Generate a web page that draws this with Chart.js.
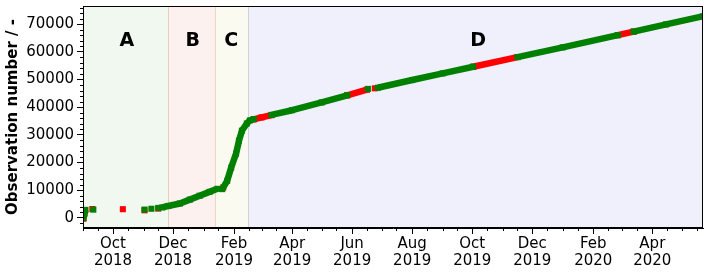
<!DOCTYPE html>
<html><head><meta charset="utf-8">
<script src="https://cdn.jsdelivr.net/npm/chart.js@4/dist/chart.umd.min.js"></script>
<style>html,body{margin:0;padding:0;background:#fff;}#wrap{width:709px;height:272px;}</style>
</head><body><div id="wrap"><canvas id="c" width="709" height="272"></canvas></div>
<script>
// ---- data (null = gap between observation runs) ----
const greenDates = ['2018-09-01','2018-09-02','2018-09-03','2018-09-05',
  '2018-09-11','2018-09-12',
  '2018-11-02','2018-11-03',
  '2018-11-09','2018-11-10',
  '2018-11-16','2018-11-17',
  '2018-11-20','2018-11-26','2018-12-08','2018-12-18','2018-12-28','2019-01-07','2019-01-15','2019-01-17',
  '2019-01-20','2019-01-25','2019-01-29','2019-02-03','2019-02-06','2019-02-09','2019-02-14','2019-02-17','2019-02-21','2019-02-22',
  '2019-03-11','2019-04-01','2019-05-01','2019-05-27','2019-05-28',
  '2019-06-17','2019-06-18',
  '2019-06-27','2019-08-01','2019-09-01','2019-10-02','2019-10-03',
  '2019-11-16','2020-01-01','2020-02-26','2020-02-27',
  '2020-03-13','2020-04-15','2020-05-23'];
const greenValues = [0,1500,2900,null,
  3000,null,
  3000,null,
  3300,null,
  3600,null,
  3800,4300,5200,6600,8000,9400,10500,null,
  10400,13400,18100,23200,27900,31500,34100,35200,35700,null,
  37200,38900,41700,44300,null,
  46600,null,
  47000,49800,52200,54600,null,
  58100,61600,66000,null,
  67300,69900,72900];

const redDates = ['2018-09-01','2018-09-02',
  '2018-09-10','2018-09-11',
  '2018-10-11','2018-10-12',
  '2018-11-02','2018-11-03',
  '2018-11-16','2018-11-17',
  '2019-01-21','2019-01-22',
  '2019-02-21','2019-03-01','2019-03-11','2019-03-12',
  '2019-05-27','2019-06-16','2019-06-17',
  '2019-06-24','2019-06-25',
  '2019-10-02','2019-11-16','2019-11-17',
  '2020-02-26','2020-03-13'];
const redValues = [-300,null,
  3200,null,
  3150,null,
  2750,null,
  3350,null,
  11000,null,
  35600,36300,37100,null,
  44300,46300,null,
  46800,null,
  54600,58100,null,
  66000,67300];

// ---- regions ----
const regionNames = ['A','B','C','D'];
const regionStarts = ['2018-08-30','2018-11-26','2019-01-13','2019-02-15'];
const regionEnds   = ['2018-11-26','2019-01-13','2019-02-15','2020-05-25'];
const regionLabelDates = ['2018-10-15','2018-12-21','2019-01-29','2019-10-07'];
const regionLabelValue = 62000;

// ---- ticks ----
const xTickDates = ['2018-10-01','2018-12-01','2019-02-01','2019-04-01','2019-06-01','2019-08-01','2019-10-01','2019-12-01','2020-02-01','2020-04-01'];
const xTickLabels = [['Oct','2018'],['Dec','2018'],['Feb','2019'],['Apr','2019'],['Jun','2019'],['Aug','2019'],['Oct','2019'],['Dec','2019'],['Feb','2020'],['Apr','2020']];
const yTickValues = [0,10000,20000,30000,40000,50000,60000,70000];
const yTickLabels = ['0','10000','20000','30000','40000','50000','60000','70000'];

const day = s => { const p = s.split('-').map(Number); return Date.UTC(p[0], p[1]-1, p[2]) / 86400000; };
const XMIN = day('2018-10-01') - 30.5, XMAX = day('2020-04-01') + 51.5;
const YMIN = -3645, YMAX = 76545;

const regionFill = ['rgb(241,248,240)','rgb(253,241,240)','rgb(250,250,240)','rgb(240,240,252)'];
const regionEdge = ['rgba(0,128,0,0.10)','rgba(240,120,90,0.22)','rgba(200,190,120,0.25)','rgba(150,150,200,0.25)'];

Chart.defaults.font.family = 'DejaVu Sans';

const bgPlugin = {
  id: 'bg',
  beforeDatasetsDraw(chart) {
    const {ctx, chartArea: a, scales: {x, y}} = chart;
    ctx.save();
    ctx.beginPath(); ctx.rect(a.left, a.top, a.right - a.left, a.bottom - a.top); ctx.clip();
    regionNames.forEach((n, i) => {
      const p0 = x.getPixelForValue(day(regionStarts[i])), p1 = x.getPixelForValue(day(regionEnds[i]));
      ctx.fillStyle = regionFill[i];
      ctx.fillRect(p0, a.top, p1 - p0, a.bottom - a.top);
    });
    regionNames.forEach((n, i) => {
      ctx.strokeStyle = regionEdge[i]; ctx.lineWidth = 1;
      [regionStarts[i], regionEnds[i]].forEach(d => {
        const p = Math.round(x.getPixelForValue(day(d))) + 0.5;
        ctx.beginPath(); ctx.moveTo(p, a.top); ctx.lineTo(p, a.bottom); ctx.stroke();
      });
    });
    ctx.fillStyle = '#000';
    ctx.font = 'bold 19px DejaVu Sans';
    ctx.textAlign = 'center'; ctx.textBaseline = 'alphabetic';
    regionNames.forEach((n, i) => {
      ctx.fillText(n, x.getPixelForValue(day(regionLabelDates[i])), y.getPixelForValue(regionLabelValue));
    });
    ctx.restore();
  }
};

const framePlugin = {
  id: 'frame',
  afterDraw(chart) {
    const {ctx, chartArea: a, scales: {x, y}} = chart;
    ctx.save();
    ctx.strokeStyle = '#000'; ctx.lineWidth = 1;
    const L = Math.round(a.left) + 0.5, R = Math.round(a.right) - 0.5, T = Math.round(a.top) + 0.5, B = Math.round(a.bottom) - 0.5;
    ctx.strokeRect(L, T, R - L, B - T);
    ctx.beginPath();
    for (let v = -2000; v <= 76000; v += 2000) {
      if (v % 10000 === 0) continue;
      const p = Math.round(y.getPixelForValue(v)) + 0.5;
      ctx.moveTo(L - 3.5, p); ctx.lineTo(L, p);
    }
    const majors = new Set(xTickDates.map(day));
    for (let yr = 2018; yr <= 2020; yr++) for (let m = 1; m <= 12; m++) for (const d of [1, 16]) {
      const v = Date.UTC(yr, m - 1, d) / 86400000;
      if (v < XMIN || v > XMAX || majors.has(v)) continue;
      const p = Math.round(x.getPixelForValue(v)) + 0.5;
      ctx.moveTo(p, B); ctx.lineTo(p, B + 3.5);
    }
    ctx.stroke();
    ctx.restore();
  }
};

const mk = (dates, vals) => dates.map((d, i) => ({x: day(d), y: vals[i]}));
const common = {borderWidth: 6.5, pointStyle: 'rect', pointRadius: 4.3, pointHoverRadius: 4.3, pointBorderWidth: 0,
  spanGaps: false, clip: 0, borderCapStyle: 'butt', borderJoinStyle: 'round', tension: 0};

new Chart(document.getElementById('c'), {
  type: 'line',
  data: {datasets: [
    Object.assign({label: 'green', data: mk(greenDates, greenValues), borderColor: '#008000', backgroundColor: '#008000', pointBackgroundColor: '#008000'}, common),
    Object.assign({label: 'red', data: mk(redDates, redValues), borderColor: '#ff0000', backgroundColor: '#ff0000', pointBackgroundColor: '#ff0000'}, common)
  ]},
  options: {
    responsive: false, animation: false, devicePixelRatio: 1, events: [],
    layout: {padding: {left: 0, right: 6, top: 6, bottom: 0}},
    plugins: {legend: {display: false}, tooltip: {enabled: false}},
    scales: {
      x: {type: 'linear', min: XMIN, max: XMAX,
        afterFit(s) { s.height = 44; s.paddingLeft = 0; s.paddingRight = 0; },
        afterBuildTicks(s) { s.ticks = xTickDates.map(d => ({value: day(d)})); },
        ticks: {autoSkip: false, maxRotation: 0, minRotation: 0, padding: 1, color: '#000',
          font: {size: 15, lineHeight: 1.16}, callback: (v, i) => xTickLabels[i]},
        grid: {drawOnChartArea: false, color: '#000', tickLength: 6, lineWidth: 1},
        border: {display: true, color: '#000', width: 1}},
      y: {type: 'linear', min: YMIN, max: YMAX,
        afterFit(s) { s.width = 83; s.paddingTop = 0; s.paddingBottom = 0; },
        afterBuildTicks(s) { s.ticks = yTickValues.map(v => ({value: v})); },
        ticks: {padding: 3, color: '#000', font: {size: 15}, callback: (v, i) => yTickLabels[i]},
        grid: {drawOnChartArea: false, color: '#000', tickLength: 6, lineWidth: 1},
        border: {display: true, color: '#000', width: 1},
        title: {display: true, text: 'Observation number / -', color: '#000',
          font: {size: 15, weight: 'bold'}, padding: {top: 4, bottom: 0}}}
    }
  },
  plugins: [bgPlugin, framePlugin]
});
</script></body></html>
